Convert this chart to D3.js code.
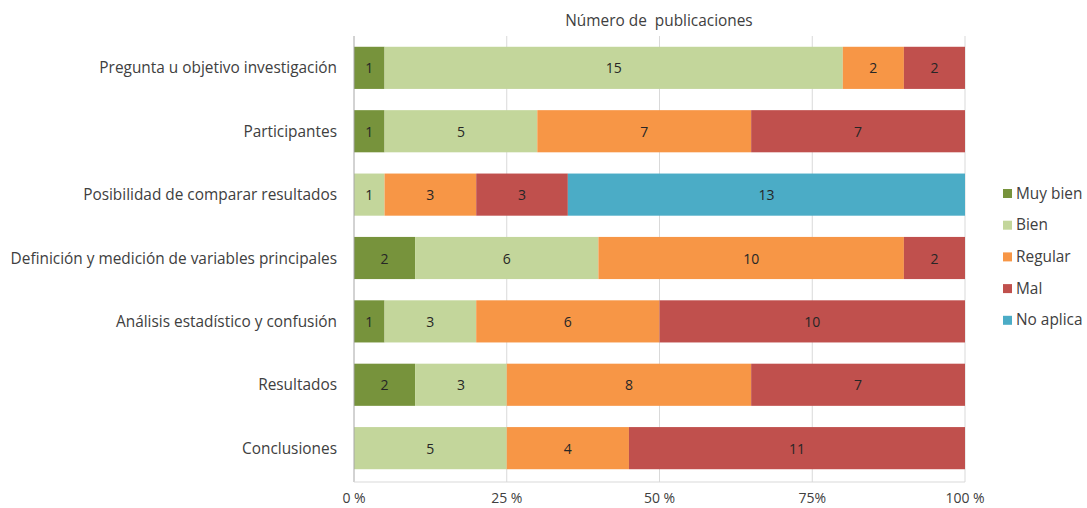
<!DOCTYPE html>
<meta charset="utf-8">
<style>
body { margin: 0; background: #fff; }
text { font-family: "Open Sans", Lato, sans-serif; fill: #404040; }
.grid line { stroke: #d9d9d9; stroke-width: 1; }
</style>
<body>
<script src="https://cdn.jsdelivr.net/npm/d3@7"></script>
<script>

var width = 1087,
    height = 508;

var categories = [
  "Pregunta u objetivo investigación",
  "Participantes",
  "Posibilidad de comparar resultados",
  "Definición y medición de variables principales",
  "Análisis estadístico y confusión",
  "Resultados",
  "Conclusiones"
];

var seriesNames = ["Muy bien", "Bien", "Regular", "Mal", "No aplica"];
var colors = ["#77933c", "#c3d69b", "#f79646", "#c0504d", "#4bacc6"];

var muyBien  = [1, 1, 0, 2, 1, 2, 0];
var bien     = [15, 5, 1, 6, 3, 3, 5];
var regular  = [2, 7, 3, 10, 6, 8, 4];
var mal      = [2, 7, 3, 2, 10, 7, 11];
var noAplica = [0, 0, 13, 0, 0, 0, 0];

var tickValues = [0, 0.25, 0.5, 0.75, 1];
var tickLabels = ["0 %", "25 %", "50 %", "75%", "100 %"];

var margin = {top: 36, left: 354};
var plotW = 611,
    plotH = 444;

// build rows for the stack
var rows = categories.map(function(c, i) {
  return {
    cat: c,
    "Muy bien": muyBien[i],
    "Bien": bien[i],
    "Regular": regular[i],
    "Mal": mal[i],
    "No aplica": noAplica[i]
  };
});

var stacked = d3.stack()
    .keys(seriesNames)
    .offset(d3.stackOffsetExpand)(rows);

var x = d3.scaleLinear().domain([0, 1]).range([0, plotW]);
var y = d3.scaleBand().domain(categories).range([0, plotH]).paddingInner(0.335).paddingOuter(0.17);

var color = d3.scaleOrdinal().domain(seriesNames).range(colors);

var svg = d3.select("body").append("svg")
    .attr("width", width)
    .attr("height", height);

var g = svg.append("g")
    .attr("transform", "translate(" + margin.left + "," + margin.top + ")");

// gridlines
g.append("g").attr("class", "grid")
  .selectAll("line")
    .data(tickValues.slice(1))
  .enter().append("line")
    .attr("x1", function(d) { return x(d); })
    .attr("x2", function(d) { return x(d); })
    .attr("y1", 0)
    .attr("y2", plotH + 2);

// bars
var layer = g.selectAll(".layer")
    .data(stacked)
  .enter().append("g")
    .attr("class", "layer")
    .attr("fill", function(d) { return color(d.key); });

layer.selectAll("rect")
    .data(function(d) { return d; })
  .enter().append("rect")
    .attr("x", function(d) { return x(d[0]); })
    .attr("y", function(d) { return y(d.data.cat); })
    .attr("width", function(d) { return x(d[1]) - x(d[0]); })
    .attr("height", y.bandwidth());

// segment labels
layer.each(function(s) {
  d3.select(this).selectAll("text")
      .data(s.filter(function(d) { return d.data[s.key] > 0; }))
    .enter().append("text")
      .attr("x", function(d) { return (x(d[0]) + x(d[1])) / 2; })
      .attr("y", function(d) { return y(d.data.cat) + y.bandwidth() / 2; })
      .attr("text-anchor", "middle")
      .attr("dominant-baseline", "central")
      .style("font-size", "14px")
      .style("fill", "#262626")
      .text(function(d) { return d.data[s.key]; });
});

// axis lines
g.append("line")
    .attr("x1", 0).attr("x2", 0).attr("y1", 0).attr("y2", plotH + 2)
    .attr("stroke", "#a6a6a6");
g.append("line")
    .attr("x1", 0).attr("x2", plotW).attr("y1", plotH + 2).attr("y2", plotH + 2)
    .attr("stroke", "#d9d9d9");

// y labels
g.selectAll(".ylab")
    .data(categories)
  .enter().append("text")
    .attr("class", "ylab")
    .attr("x", -17)
    .attr("y", function(d) { return y(d) + y.bandwidth() / 2; })
    .attr("text-anchor", "end")
    .attr("dominant-baseline", "central")
    .style("font-size", "15.4px")
    .text(function(d) { return d; });

// x tick labels
g.selectAll(".xlab")
    .data(tickValues)
  .enter().append("text")
    .attr("class", "xlab")
    .attr("x", function(d) { return x(d); })
    .attr("y", plotH + 17)
    .attr("text-anchor", "middle")
    .attr("dominant-baseline", "central")
    .style("font-size", "14px")
    .text(function(d, i) { return tickLabels[i]; });

// title
svg.append("text")
    .attr("x", 659)
    .attr("y", 20)
    .attr("text-anchor", "middle")
    .attr("dominant-baseline", "central")
    .attr("xml:space", "preserve")
    .style("font-size", "15.4px")
    .text("Número de  publicaciones");

// legend
var legend = svg.append("g")
    .attr("transform", "translate(1003,193)");

var item = legend.selectAll(".item")
    .data(seriesNames)
  .enter().append("g")
    .attr("class", "item")
    .attr("transform", function(d, i) { return "translate(0," + (i * 31.7) + ")"; });

item.append("rect")
    .attr("x", 0).attr("y", -4)
    .attr("width", 9).attr("height", 9)
    .attr("fill", function(d) { return color(d); });

item.append("text")
    .attr("x", 13)
    .attr("y", 0)
    .attr("dominant-baseline", "central")
    .style("font-size", "15.4px")
    .text(function(d) { return d; });

</script>
</body>
